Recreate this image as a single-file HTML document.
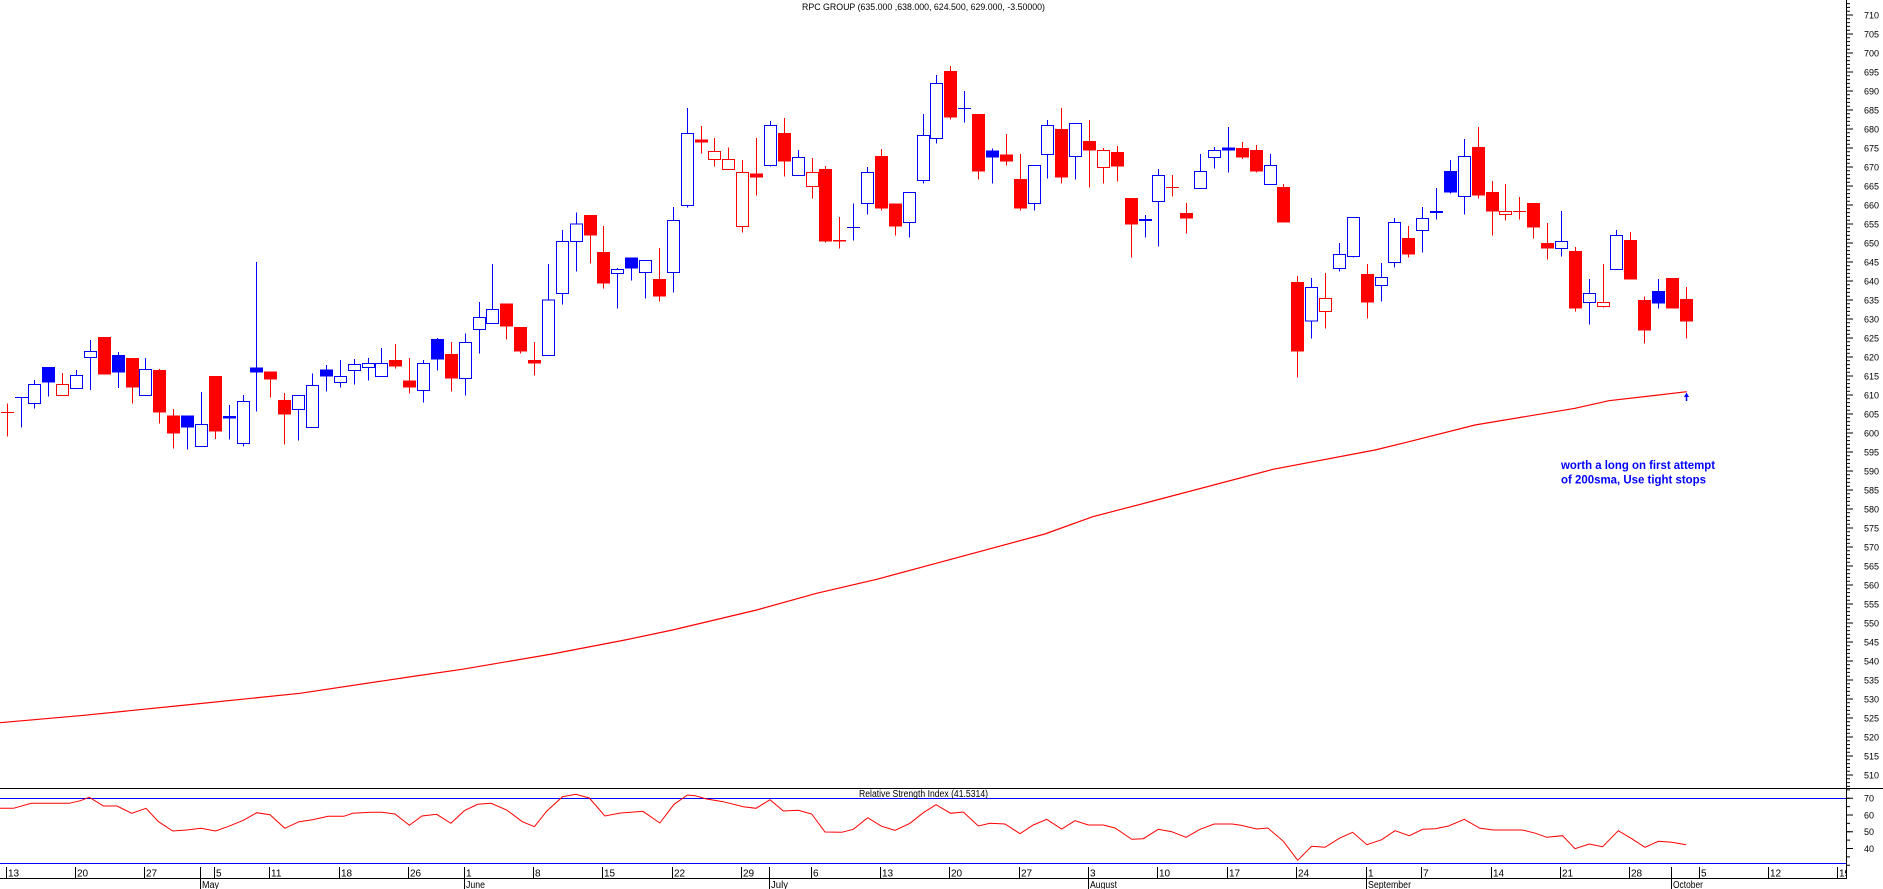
<!DOCTYPE html>
<html>
<head>
<meta charset="utf-8">
<style>
html,body{margin:0;padding:0;background:#fff;overflow:hidden;}
svg{display:block;font-family:"Liberation Sans",Arial,sans-serif;}
.r{stroke:#f00;fill:none;stroke-width:1}
.b{stroke:#00f;fill:none;stroke-width:1}
.rf{fill:#f00;stroke:none}
.bf{fill:#00f;stroke:none}
.rh{fill:#fff;stroke:#f00;stroke-width:1}
.bh{fill:#fff;stroke:#00f;stroke-width:1}
.s path,.s rect{vector-effect:non-scaling-stroke;}
</style>
</head>
<body>
<svg width="1883" height="889" viewBox="0 0 1883 889" xmlns="http://www.w3.org/2000/svg">
<rect x="0" y="0" width="1883" height="889" fill="#fff"/>

<!-- Title -->
<text x="802" y="10" font-size="9" fill="#000" textLength="243" lengthAdjust="spacingAndGlyphs">RPC GROUP (635.000 ,638.000, 624.500, 629.000, -3.50000)</text>

<!-- 200 SMA -->
<polyline fill="none" stroke="#f00" stroke-width="1.2" points="0,722.7 84,715.3 186,705 300,693.3 409,677 462,669.3 552,654 625,640 672.5,630 756.6,610 816.6,593.3 876.7,579.3 960.7,556.7 1044.8,534 1092.8,516.7 1152.9,501 1273,469.3 1375,450 1405,442.7 1475,425 1575,408.3 1609,400.7 1686.7,391.7"/>

<!-- arrow -->
<polygon points="1684,397 1686.5,392.5 1689,397" fill="#00f"/>
<line x1="1686.5" y1="396" x2="1686.5" y2="401" stroke="#00f" stroke-width="1.5"/>

<!-- annotation -->
<text x="1561" y="469" font-size="12" font-weight="bold" fill="#00f" textLength="154" lengthAdjust="spacingAndGlyphs">worth a long on first attempt</text>
<text x="1561" y="483.5" font-size="12" font-weight="bold" fill="#00f" textLength="145" lengthAdjust="spacingAndGlyphs">of 200sma, Use tight stops</text>

<!-- Candles group A -->
<g class="s" transform="translate(0,60) scale(1,0.3333333)" shape-rendering="crispEdges">
<path class="r" d="M7.5 1030V1130M1 1057H14"/>
<path class="b" d="M21.5 1012V1103M15 1012H28"/>
<path class="b" d="M34.5 960V1046"/><rect class="bh" x="28.5" y="973" width="12" height="57"/>
<path class="b" d="M48.5 921V1010"/><rect class="bf" x="42" y="921" width="13" height="47"/>
<path class="r" d="M62.5 939V1006"/><rect class="rh" x="56.5" y="973" width="12" height="33"/>
<path class="b" d="M76.5 930V985"/><rect class="bh" x="70.5" y="946" width="12" height="39"/>
<path class="b" d="M90.5 840V990"/><rect class="bh" x="84.5" y="874" width="12" height="18"/>
<path class="r" d="M104.5 831V944"/><rect class="rf" x="98" y="831" width="13" height="113"/>
<path class="b" d="M118.5 876V984"/><rect class="bf" x="112" y="885" width="13" height="53"/>
<path class="r" d="M132.5 894V1031"/><rect class="rf" x="126" y="894" width="13" height="89"/>
<path class="b" d="M145.5 894V1006"/><rect class="bh" x="139.5" y="928" width="12" height="78"/>
<path class="r" d="M159.5 927V1091"/><rect class="rf" x="153" y="930" width="13" height="128"/>
<path class="r" d="M173.5 1047V1166"/><rect class="rf" x="167" y="1066" width="13" height="55"/>
<path class="b" d="M187.5 1066V1168"/><rect class="bf" x="181" y="1066" width="13" height="37"/>
<path class="b" d="M201.5 996V1159"/><rect class="bh" x="195.5" y="1093" width="12" height="66"/>
<path class="r" d="M215.5 948V1137"/><rect class="rf" x="209" y="948" width="13" height="167"/>
<path class="b" d="M229.5 1035V1139"/><rect class="bf" x="223" y="1068" width="13" height="8"/>
<path class="b" d="M243.5 1005V1160"/><rect class="bh" x="237.5" y="1024" width="12" height="126"/>
<path class="b" d="M256.5 606V1055"/><rect class="bf" x="250" y="922" width="13" height="16"/>
<path class="r" d="M270.5 934V1013"/><rect class="rf" x="264" y="934" width="13" height="25"/>
<path class="r" d="M284.5 999V1154"/><rect class="rf" x="278" y="1020" width="13" height="44"/>
<path class="b" d="M298.5 1006V1142"/><rect class="bh" x="292.5" y="1006" width="12" height="42"/>
<path class="b" d="M312.5 940V1102"/><rect class="bh" x="306.5" y="976" width="12" height="126"/>
<path class="b" d="M326.5 915V995"/><rect class="bf" x="320" y="928" width="13" height="22"/>
<path class="b" d="M340.5 900V983"/><rect class="bh" x="334.5" y="949" width="12" height="18"/>
<path class="b" d="M354.5 897V974"/><rect class="bh" x="348.5" y="913" width="12" height="18"/>
<path class="b" d="M368.5 894V962"/><rect class="bh" x="362.5" y="910" width="12" height="12"/>
<path class="b" d="M381.5 864V949"/><rect class="bh" x="375.5" y="910" width="12" height="39"/>
<path class="r" d="M395.5 852V926"/><rect class="rf" x="389" y="900" width="13" height="20"/>
<path class="r" d="M409.5 894V1001"/><rect class="rf" x="403" y="961" width="13" height="22"/>
<path class="b" d="M423.5 900V1028"/><rect class="bh" x="417.5" y="910" width="12" height="81"/>
<path class="b" d="M437.5 834V932"/><rect class="bf" x="431" y="837" width="13" height="62"/>
<path class="r" d="M451.5 846V995"/><rect class="rf" x="445" y="882" width="13" height="74"/>
<path class="b" d="M465.5 820V1007"/><rect class="bh" x="459.5" y="847" width="12" height="108"/>
<!-- group B -->
<path class="b" d="M479.5 726V881"/><rect class="bh" x="473.5" y="772" width="12" height="36"/>
<path class="b" d="M492.5 612V790"/><rect class="bh" x="486.5" y="748" width="12" height="42"/>
<path class="r" d="M506.5 730V839"/><rect class="rf" x="500" y="730" width="13" height="70"/>
<path class="r" d="M520.5 801V881"/><rect class="rf" x="514" y="801" width="13" height="74"/>
<path class="r" d="M534.5 846V947"/><rect class="rf" x="528" y="900" width="13" height="11"/>
<path class="b" d="M548.5 612V886"/><rect class="bh" x="542.5" y="720" width="12" height="166"/>
<path class="b" d="M562.5 510V734"/><rect class="bh" x="556.5" y="544" width="12" height="156"/>
<path class="b" d="M576.5 457V635"/><rect class="bh" x="570.5" y="492" width="12" height="52"/>
<path class="r" d="M590.5 465V611"/><rect class="rf" x="584" y="465" width="13" height="62"/>
<path class="r" d="M603.5 498V686"/><rect class="rf" x="597" y="576" width="13" height="95"/>
<path class="b" d="M617.5 624V746"/><rect class="bh" x="611.5" y="628" width="12" height="12"/>
<path class="b" d="M631.5 592V662"/><rect class="bf" x="625" y="592" width="13" height="34"/>
<path class="b" d="M645.5 601V716"/><rect class="bh" x="639.5" y="601" width="12" height="36"/>
<path class="r" d="M659.5 564V725"/><rect class="rf" x="653" y="657" width="13" height="53"/>
<path class="b" d="M673.5 441V698"/><rect class="bh" x="667.5" y="481" width="12" height="156"/>
<path class="b" d="M687.5 144V443"/><rect class="bh" x="681.5" y="220" width="12" height="216"/>
<path class="r" d="M701.5 198V281"/><rect class="rf" x="695" y="238" width="13" height="10"/>
<path class="r" d="M714.5 234V320"/><rect class="rh" x="708.5" y="274" width="12" height="24"/>
<path class="r" d="M728.5 262V328"/><rect class="rh" x="722.5" y="298" width="12" height="30"/>
<path class="r" d="M742.5 300V518"/><rect class="rh" x="736.5" y="337" width="12" height="162"/>
<path class="r" d="M756.5 234V407"/><rect class="rf" x="750" y="340" width="13" height="13"/>
<path class="b" d="M770.5 183V320"/><rect class="bh" x="764.5" y="196" width="12" height="120"/>
<path class="r" d="M784.5 174V350"/><rect class="rf" x="778" y="219" width="13" height="86"/>
<path class="b" d="M798.5 270V346"/><rect class="bh" x="792.5" y="292" width="12" height="54"/>
<path class="r" d="M812.5 294V416"/><rect class="rh" x="806.5" y="337" width="12" height="42"/>
<path class="r" d="M825.5 318V548"/><rect class="rf" x="819" y="327" width="13" height="218"/>
<path class="r" d="M839.5 471V566"/><rect class="rf" x="833" y="540" width="13" height="5"/>
<path class="b" d="M853.5 430V542M847 502H860"/>
<path class="b" d="M867.5 321V464"/><rect class="bh" x="861.5" y="337" width="12" height="93"/>
<path class="r" d="M881.5 267V452"/><rect class="rf" x="875" y="288" width="13" height="158"/>
<path class="r" d="M895.5 430V527"/><rect class="rf" x="889" y="430" width="13" height="70"/>
<path class="b" d="M909.5 397V533"/><rect class="bh" x="903.5" y="397" width="12" height="90"/>
<path class="b" d="M923.5 162V371"/><rect class="bh" x="917.5" y="226" width="12" height="135"/>
</g>

<!-- group C -->
<g class="s" transform="translate(0,40) scale(1,0.3333333)" shape-rendering="crispEdges">
<path class="b" d="M936.5 105V311"/><rect class="bh" x="930.5" y="130" width="12" height="165"/>
<path class="r" d="M950.5 78V239"/><rect class="rf" x="944" y="93" width="13" height="140"/>
<path class="b" d="M964.5 153V248M958 205H971"/>
<path class="r" d="M978.5 222V419"/><rect class="rf" x="972" y="222" width="13" height="173"/>
<path class="b" d="M992.5 325V431"/><rect class="bf" x="986" y="331" width="13" height="21"/>
<path class="r" d="M1006.5 282V377"/><rect class="rf" x="1000" y="343" width="13" height="22"/>
<path class="r" d="M1020.5 342V512"/><rect class="rf" x="1014" y="417" width="13" height="89"/>
<path class="b" d="M1034.5 376V512"/><rect class="bh" x="1028.5" y="376" width="12" height="114"/>
<path class="b" d="M1047.5 240V416"/><rect class="bh" x="1041.5" y="256" width="12" height="87"/>
<path class="r" d="M1061.5 204V431"/><rect class="rf" x="1055" y="267" width="13" height="146"/>
<path class="b" d="M1075.5 250V419"/><rect class="bh" x="1069.5" y="250" width="12" height="99"/>
<path class="r" d="M1089.5 240V443"/><rect class="rf" x="1083" y="303" width="13" height="29"/>
<path class="r" d="M1103.5 324V431"/><rect class="rh" x="1097.5" y="331" width="12" height="51"/>
<path class="r" d="M1117.5 318V425"/><rect class="rf" x="1111" y="336" width="13" height="44"/>
<path class="r" d="M1131.5 474V653"/><rect class="rf" x="1125" y="474" width="13" height="80"/>
<path class="b" d="M1145.5 525V593"/><rect class="bf" x="1139" y="537" width="13" height="6"/>
<path class="b" d="M1158.5 387V620"/><rect class="bh" x="1152.5" y="406" width="12" height="78"/>
<path class="r" d="M1172.5 405V470M1166 442H1179"/>
<path class="r" d="M1186.5 489V581"/><rect class="rf" x="1180" y="519" width="13" height="17"/>
<path class="b" d="M1200.5 342V445"/><rect class="bh" x="1194.5" y="394" width="12" height="51"/>
<path class="b" d="M1214.5 321V386"/><rect class="bh" x="1208.5" y="331" width="12" height="21"/>
<path class="b" d="M1228.5 261V398"/><rect class="bf" x="1222" y="322" width="13" height="9"/>
<path class="r" d="M1242.5 306V357"/><rect class="rf" x="1236" y="324" width="13" height="29"/>
<path class="r" d="M1256.5 315V398"/><rect class="rf" x="1250" y="330" width="13" height="65"/>
<path class="b" d="M1270.5 342V433"/><rect class="bh" x="1264.5" y="376" width="12" height="57"/>
<path class="r" d="M1283.5 432V548"/><rect class="rf" x="1277" y="441" width="13" height="107"/>
<path class="r" d="M1297.5 708V1013"/><rect class="rf" x="1291" y="726" width="13" height="209"/>
<path class="b" d="M1311.5 714V896"/><rect class="bh" x="1305.5" y="742" width="12" height="101"/>
<path class="r" d="M1325.5 699V866"/><rect class="rh" x="1319.5" y="775" width="12" height="39"/>
<path class="b" d="M1339.5 609V695"/><rect class="bh" x="1333.5" y="643" width="12" height="42"/>
<path class="b" d="M1353.5 532V653"/><rect class="bh" x="1347.5" y="532" width="12" height="117"/>
<path class="r" d="M1367.5 672V836"/><rect class="rf" x="1361" y="702" width="13" height="86"/>
<path class="b" d="M1381.5 669V785"/><rect class="bh" x="1375.5" y="712" width="12" height="24"/>
</g>

<!-- group D -->
<g class="s" transform="translate(0,100) scale(1,0.3333333)" shape-rendering="crispEdges">
<path class="b" d="M1394.5 354V503"/><rect class="bh" x="1388.5" y="367" width="12" height="120"/>
<path class="r" d="M1408.5 378V472"/><rect class="rf" x="1402" y="414" width="13" height="50"/>
<path class="b" d="M1422.5 321V458"/><rect class="bh" x="1416.5" y="355" width="12" height="36"/>
<path class="b" d="M1436.5 264V359"/><rect class="bf" x="1430" y="333" width="13" height="6"/>
<path class="b" d="M1450.5 180V281"/><rect class="bf" x="1444" y="213" width="13" height="65"/>
<path class="b" d="M1464.5 117V344"/><rect class="bh" x="1458.5" y="169" width="12" height="120"/>
<path class="r" d="M1478.5 81V296"/><rect class="rf" x="1472" y="141" width="13" height="146"/>
<path class="r" d="M1492.5 243V407"/><rect class="rf" x="1486" y="276" width="13" height="59"/>
<path class="r" d="M1505.5 252V362"/><rect class="rh" x="1499.5" y="334" width="12" height="9"/>
<path class="r" d="M1519.5 291V359M1513 335H1526"/>
<path class="r" d="M1533.5 309V416"/><rect class="rf" x="1527" y="309" width="13" height="74"/>
<path class="r" d="M1547.5 369V479"/><rect class="rf" x="1541" y="429" width="13" height="17"/>
<path class="b" d="M1561.5 333V470"/><rect class="bh" x="1555.5" y="424" width="12" height="21"/>
<path class="r" d="M1575.5 441V634"/><rect class="rf" x="1569" y="453" width="13" height="173"/>
<path class="b" d="M1589.5 537V674"/><rect class="bh" x="1583.5" y="580" width="12" height="27"/>
<path class="r" d="M1603.5 492V622"/><rect class="rh" x="1597.5" y="607" width="12" height="12"/>
<path class="b" d="M1616.5 390V508"/><rect class="bh" x="1610.5" y="406" width="12" height="102"/>
<path class="r" d="M1630.5 396V539"/><rect class="rf" x="1624" y="420" width="13" height="119"/>
<path class="r" d="M1644.5 590V731"/><rect class="rf" x="1638" y="600" width="13" height="92"/>
<path class="b" d="M1658.5 537V626"/><rect class="bf" x="1652" y="573" width="13" height="38"/>
<path class="r" d="M1672.5 534V626"/><rect class="rf" x="1666" y="534" width="13" height="92"/>
<path class="r" d="M1686.5 561V716"/><rect class="rf" x="1680" y="597" width="13" height="68"/>
</g>

<!-- RSI panel -->
<g shape-rendering="crispEdges">
<line x1="0" y1="788.5" x2="1883" y2="788.5" stroke="#000" stroke-width="1.3"/>
<line x1="0" y1="798.5" x2="1846" y2="798.5" stroke="#00f" stroke-width="1"/>
<line x1="0" y1="863.5" x2="1846" y2="863.5" stroke="#00f" stroke-width="1"/>
<line x1="0" y1="878.5" x2="1846" y2="878.5" stroke="#000" stroke-width="1"/>
<line x1="1846.5" y1="0" x2="1846.5" y2="879" stroke="#000" stroke-width="1"/>
</g>
<text x="859" y="797" font-size="10" fill="#000" textLength="129" lengthAdjust="spacingAndGlyphs">Relative Strength Index (41.5314)</text>

<polyline fill="none" stroke="#f00" stroke-width="1" points="0,808.3 13.4,808.3 31.3,803.3 69.2,803.3 80.4,800.7 89.3,797.3 103.6,806 117,806 131.7,813.3 146,808.3 158.5,821.7 172.8,831 186.6,830 200.9,828.3 215.6,831 227.7,826.7 243.3,820.3 256.7,812.7 270,814.7 284.8,828.3 299.1,821.7 312.5,819.7 328.1,816.3 343.8,816.3 352.7,813.3 370.5,812.3 381.7,812.3 395,814 409.4,825.3 421.9,816 436.6,814.3 450.9,823.3 464.3,810.7 477.7,804.3 491.1,803.3 506.7,810 522.3,821.7 534.4,826.7 546.9,811 562.5,796.7 575.9,794.3 589.3,798 604.9,816 620.5,813 642.9,811.3 659.8,823 674.1,804.3 687.5,795 695,795.7 706.7,799 723.3,801.7 743.3,806.7 756,808.3 770,799.7 783.3,811 798.3,810.3 811.7,814 825,832 841.7,832.3 853.3,829.3 867.7,817.7 881.7,826.3 895,830.3 910,823.3 923.3,812.7 936,804.7 950.7,813.3 963.3,812 978.3,826 990,823.3 1005,824 1020,833.7 1033.3,825 1046.7,819.3 1061.7,829 1075,820.7 1088.3,825 1103.3,825 1115,828 1131.7,839.3 1143.3,838.7 1158.3,829.3 1171.7,831.7 1186,837.3 1200,829.3 1214.3,824 1232.1,824 1241,825.3 1256.7,829 1267.8,828 1283.4,841.3 1297.7,860.3 1311.6,846.3 1325,847.3 1339.3,838.3 1352.6,832.3 1366.9,844.7 1381.7,839.7 1395,830.7 1409.3,835.7 1422.7,829.3 1435.2,828.7 1448.6,826 1464.3,819.3 1479.9,828.3 1493.3,830 1522.3,830 1535.7,833.3 1546.8,837.3 1562.5,835.7 1575,848.7 1589.3,844 1602.6,846.7 1618.3,830.7 1631.7,838.7 1645,847.3 1658.4,841.3 1671.8,842.3 1686.1,844.7"/>

<!-- Price axis ticks -->
<line x1="1848.5" y1="3.1" x2="1848.5" y2="788" stroke="#000" stroke-width="3" stroke-dasharray="1 2.8"/>
<line x1="1850" y1="14.5" x2="1850" y2="776" stroke="#000" stroke-width="6" stroke-dasharray="1 18"/>
<!-- RSI axis ticks -->
<line x1="1848.5" y1="789.4" x2="1848.5" y2="866" stroke="#000" stroke-width="3" stroke-dasharray="1 7.37"/>
<line x1="1850" y1="797.8" x2="1850" y2="850" stroke="#000" stroke-width="6" stroke-dasharray="1 15.73"/>

<!-- Price labels -->
<g font-size="9" fill="#000">
<text x="1864" y="18.3">710</text>
<text x="1864" y="37.3">705</text>
<text x="1864" y="56.3">700</text>
<text x="1864" y="75.3">695</text>
<text x="1864" y="94.3">690</text>
<text x="1864" y="113.3">685</text>
<text x="1864" y="132.3">680</text>
<text x="1864" y="151.3">675</text>
<text x="1864" y="170.3">670</text>
<text x="1864" y="189.3">665</text>
<text x="1864" y="208.3">660</text>
<text x="1864" y="227.3">655</text>
<text x="1864" y="246.3">650</text>
<text x="1864" y="265.3">645</text>
<text x="1864" y="284.3">640</text>
<text x="1864" y="303.3">635</text>
<text x="1864" y="322.3">630</text>
<text x="1864" y="341.3">625</text>
<text x="1864" y="360.3">620</text>
<text x="1864" y="379.3">615</text>
<text x="1864" y="398.3">610</text>
<text x="1864" y="417.3">605</text>
<text x="1864" y="436.3">600</text>
<text x="1864" y="455.3">595</text>
<text x="1864" y="474.3">590</text>
<text x="1864" y="493.3">585</text>
<text x="1864" y="512.3">580</text>
<text x="1864" y="531.3">575</text>
<text x="1864" y="550.3">570</text>
<text x="1864" y="569.3">565</text>
<text x="1864" y="588.3">560</text>
<text x="1864" y="607.3">555</text>
<text x="1864" y="626.3">550</text>
<text x="1864" y="645.3">545</text>
<text x="1864" y="664.3">540</text>
<text x="1864" y="683.3">535</text>
<text x="1864" y="702.3">530</text>
<text x="1864" y="721.3">525</text>
<text x="1864" y="740.3">520</text>
<text x="1864" y="759.3">515</text>
<text x="1864" y="778.3">510</text>
<text x="1864" y="801.6">70</text>
<text x="1864" y="818.3">60</text>
<text x="1864" y="835.1">50</text>
<text x="1864" y="851.8">40</text>
</g>

<!-- Date axis -->
<defs><clipPath id="dc"><rect x="0" y="860" width="1846" height="29"/></clipPath></defs>
<g clip-path="url(#dc)">
<path stroke="#000" stroke-width="1" fill="none" shape-rendering="crispEdges" d="M6.5 867V878M75.5 867V878M144.5 867V878M214.5 867V878M269.5 867V878M339.5 867V878M408.5 867V878M464.5 867V878M533.5 867V878M602.5 867V878M672.5 867V878M741.5 867V878M811.5 867V878M880.5 867V878M949.5 867V878M1019.5 867V878M1088.5 867V878M1157.5 867V878M1227.5 867V878M1296.5 867V878M1366.5 867V878M1421.5 867V878M1491.5 867V878M1560.5 867V878M1629.5 867V878M1699.5 867V878M1768.5 867V878M1837.5 867V878M200.5 867V889M464.5 867V889M769.5 867V889M1088.5 867V889M1366.5 867V889M1671.5 867V889"/>
<g font-size="10" fill="#000">
<text x="8" y="876.5">13</text>
<text x="77" y="876.5">20</text>
<text x="146" y="876.5">27</text>
<text x="216" y="876.5">5</text>
<text x="271" y="876.5">11</text>
<text x="341" y="876.5">18</text>
<text x="410" y="876.5">26</text>
<text x="466" y="876.5">1</text>
<text x="535" y="876.5">8</text>
<text x="604" y="876.5">15</text>
<text x="674" y="876.5">22</text>
<text x="743" y="876.5">29</text>
<text x="813" y="876.5">6</text>
<text x="882" y="876.5">13</text>
<text x="951" y="876.5">20</text>
<text x="1021" y="876.5">27</text>
<text x="1090" y="876.5">3</text>
<text x="1159" y="876.5">10</text>
<text x="1229" y="876.5">17</text>
<text x="1298" y="876.5">24</text>
<text x="1368" y="876.5">1</text>
<text x="1423" y="876.5">7</text>
<text x="1493" y="876.5">14</text>
<text x="1562" y="876.5">21</text>
<text x="1631" y="876.5">28</text>
<text x="1701" y="876.5">5</text>
<text x="1770" y="876.5">12</text>
<text x="1839" y="876.5">19</text>
<text x="202" y="888" textLength="17" lengthAdjust="spacingAndGlyphs">May</text>
<text x="466" y="888" textLength="19" lengthAdjust="spacingAndGlyphs">June</text>
<text x="771" y="888" textLength="17" lengthAdjust="spacingAndGlyphs">July</text>
<text x="1090" y="888" textLength="27" lengthAdjust="spacingAndGlyphs">August</text>
<text x="1368" y="888" textLength="43" lengthAdjust="spacingAndGlyphs">September</text>
<text x="1673" y="888" textLength="30" lengthAdjust="spacingAndGlyphs">October</text>
</g>
</g>
</svg>
</body>
</html>
